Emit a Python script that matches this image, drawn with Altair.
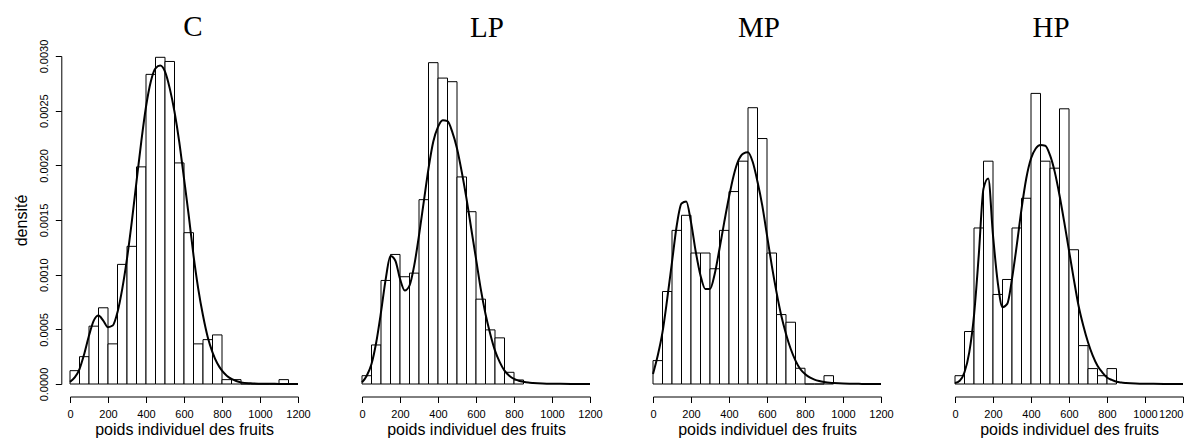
import altair as alt
import pandas as pd

# ---- data ----
panels = ["C", "LP", "MP", "HP"]
bin_width = 50
x_ticks = [0, 200, 400, 600, 800, 1000, 1200]
y_ticks = [0.0, 0.0005, 0.0010, 0.0015, 0.0020, 0.0025, 0.0030]

# histogram densities, bins of 50 starting at 0
hist_C = [0.000122, 0.000250, 0.000529, 0.000697, 0.000367, 0.001094, 0.001259, 0.001986,
          0.002832, 0.002988, 0.002950, 0.002022, 0.001384, 0.000367, 0.000406, 0.000449,
          0.000040, 0.000040, 0.0, 0.0, 0.0, 0.0, 0.000040]
hist_LP = [0.000076, 0.000357, 0.000947, 0.001185, 0.000981, 0.001014, 0.001686, 0.002939,
           0.002798, 0.002765, 0.001894, 0.001576, 0.000776, 0.000495, 0.000422, 0.000107,
           0.000037]
hist_MP = [0.000214, 0.000846, 0.001405, 0.001543, 0.001198, 0.001198, 0.001054, 0.001405,
           0.001760, 0.002038, 0.002527, 0.002245, 0.001198, 0.000635, 0.000565, 0.000144,
           0.0, 0.0, 0.000076]
hist_HP = [0.000076, 0.000480, 0.001427, 0.002038, 0.000819, 0.000956, 0.001427, 0.001699,
           0.002658, 0.002038, 0.001974, 0.002517, 0.001228, 0.000351, 0.000141, 0.000076,
           0.000141]

# fitted density curves
curve_x = [0, 25, 50, 75, 100, 125, 150, 175, 200, 225, 250, 275, 300, 325, 350, 375, 400,
           425, 450, 475, 500, 525, 550, 575, 600, 625, 650, 675, 700, 725, 750, 775, 800,
           825, 850, 875, 900, 950, 1000, 1100, 1200]
curve_C = [0.000020, 0.000060, 0.000137, 0.000275, 0.000443, 0.000580, 0.000626, 0.000580,
           0.000520, 0.000535, 0.000657, 0.000870, 0.001146, 0.001480, 0.001850, 0.002215,
           0.002536, 0.002765, 0.002887, 0.002912, 0.002857, 0.002704, 0.002490, 0.002215,
           0.001880, 0.001540, 0.001176, 0.000870, 0.000626, 0.000428, 0.000290, 0.000190,
           0.000122, 0.000076, 0.000046, 0.000027, 0.000015, 0.000006, 0.000003, 0.000001, 0.0]
curve_LP = [0.000015, 0.000076, 0.000183, 0.000382, 0.000657, 0.000962, 0.001170, 0.001130,
            0.000962, 0.000855, 0.000900, 0.001085, 0.001360, 0.001665, 0.001970, 0.002215,
            0.002352, 0.002413, 0.002404, 0.002306, 0.002154, 0.001940, 0.001695, 0.001420,
            0.001146, 0.000870, 0.000640, 0.000458, 0.000305, 0.000200, 0.000122, 0.000076,
            0.000046, 0.000030, 0.000020, 0.000013, 0.000009, 0.000004, 0.000002, 0.000001, 0.0]
curve_MP = [0.000092, 0.000260, 0.000474, 0.000780, 0.001115, 0.001450, 0.001650, 0.001670,
            0.001480, 0.001210, 0.000993, 0.000870, 0.000870, 0.001008, 0.001237, 0.001480,
            0.001710, 0.001910, 0.002047, 0.002108, 0.002120, 0.002030, 0.001850, 0.001634,
            0.001360, 0.001085, 0.000840, 0.000626, 0.000458, 0.000320, 0.000214, 0.000137,
            0.000092, 0.000060, 0.000040, 0.000027, 0.000018, 0.000009, 0.000004, 0.000001, 0.0]
curve_HP = [0.000009, 0.000030, 0.000107, 0.000290, 0.000626, 0.001176, 0.001787, 0.001880,
            0.001360, 0.000930, 0.000703, 0.000733, 0.000962, 0.001268, 0.001600, 0.001880,
            0.002062, 0.002154, 0.002185, 0.002180, 0.002093, 0.001940, 0.001726, 0.001480,
            0.001220, 0.000962, 0.000718, 0.000535, 0.000382, 0.000260, 0.000168, 0.000107,
            0.000060, 0.000037, 0.000020, 0.000013, 0.000009, 0.000004, 0.000002, 0.000001, 0.0]

hists = {"C": hist_C, "LP": hist_LP, "MP": hist_MP, "HP": hist_HP}
curves = {"C": curve_C, "LP": curve_LP, "MP": curve_MP, "HP": curve_HP}
title_dx = {"C": 9, "LP": 11, "MP": -8, "HP": -18}
title_offset = {"C": -26, "LP": -10, "MP": -10, "HP": -10}

SANS = "Liberation Sans"
SERIF = "Liberation Serif"
W, H = 228, 328

xscale = alt.Scale(domain=[0, 1200], nice=False, zero=False)
yscale = alt.Scale(domain=[0, 0.003], nice=False)


def make_xaxis(last):
    kw = dict(values=x_ticks, format="d", title="poids individuel des fruits",
              offset=12.5, tickSize=6, labelPadding=6, titlePadding=2,
              labelFontSize=11, titleFontSize=16, grid=False,
              labelOverlap=False, labelFlush=False)
    if last:
        # keep the right-most label inside the page
        kw["labelAlign"] = {"condition": {"test": "datum.value == 1200", "value": "right"},
                            "value": "center"}
    return alt.Axis(**kw)


yaxis = alt.Axis(values=y_ticks, format=".4f", title="densité", offset=8.7, tickSize=6,
                 labelAngle=270, labelAlign="center", labelBaseline="bottom",
                 labelPadding=6, titlePadding=9, labelFontSize=11, titleFontSize=16,
                 grid=False, labelOverlap=False, labelFlush=False)


def panel(name, show_y, last=False):
    h = hists[name]
    df_h = pd.DataFrame({
        "x0": [i * bin_width for i in range(len(h))],
        "x1": [(i + 1) * bin_width for i in range(len(h))],
        "d": h,
        "base": [0.0] * len(h),
    })
    df_c = pd.DataFrame({"x": curve_x, "d": curves[name]})
    xaxis = make_xaxis(last)
    ya = yaxis if show_y else None
    bars = alt.Chart(df_h).mark_rect(fill="white", stroke="black", strokeWidth=1).encode(
        x=alt.X("x0:Q", scale=xscale, axis=xaxis),
        x2="x1:Q",
        y=alt.Y("d:Q", scale=yscale, axis=ya),
        y2="base:Q",
    )
    line = alt.Chart(df_c).mark_line(color="black", strokeWidth=2,
                                     interpolate="monotone").encode(
        x=alt.X("x:Q", scale=xscale, axis=xaxis),
        y=alt.Y("d:Q", scale=yscale, axis=ya),
    )
    return alt.layer(bars, line).properties(
        width=W, height=H,
        title=alt.TitleParams(name, font=SERIF, fontSize=29, fontWeight="normal",
                              anchor="middle", dx=title_dx[name],
                              offset=title_offset[name], baseline="alphabetic",
                              color="black"),
    )


def spacer(w):
    return alt.Chart(pd.DataFrame({"v": [0]})).mark_point(opacity=0).encode(
        x=alt.value(0), y=alt.value(0)).properties(width=w, height=H)


chart = alt.hconcat(
    panel("C", True), spacer(4), panel("LP", False), spacer(3), panel("MP", False),
    spacer(14), panel("HP", False, last=True), spacing=30, bounds="flush",
).configure_view(stroke=None).configure_axis(
    domainColor="black", tickColor="black", labelColor="black", titleColor="black",
    labelFont=SANS, titleFont=SANS, titleFontWeight="normal", labelOverlap=False,
).properties(padding={"left": 5, "top": 5, "right": 0, "bottom": 0})

chart.save("out.html", embed_options={"renderer": "svg", "actions": False})
